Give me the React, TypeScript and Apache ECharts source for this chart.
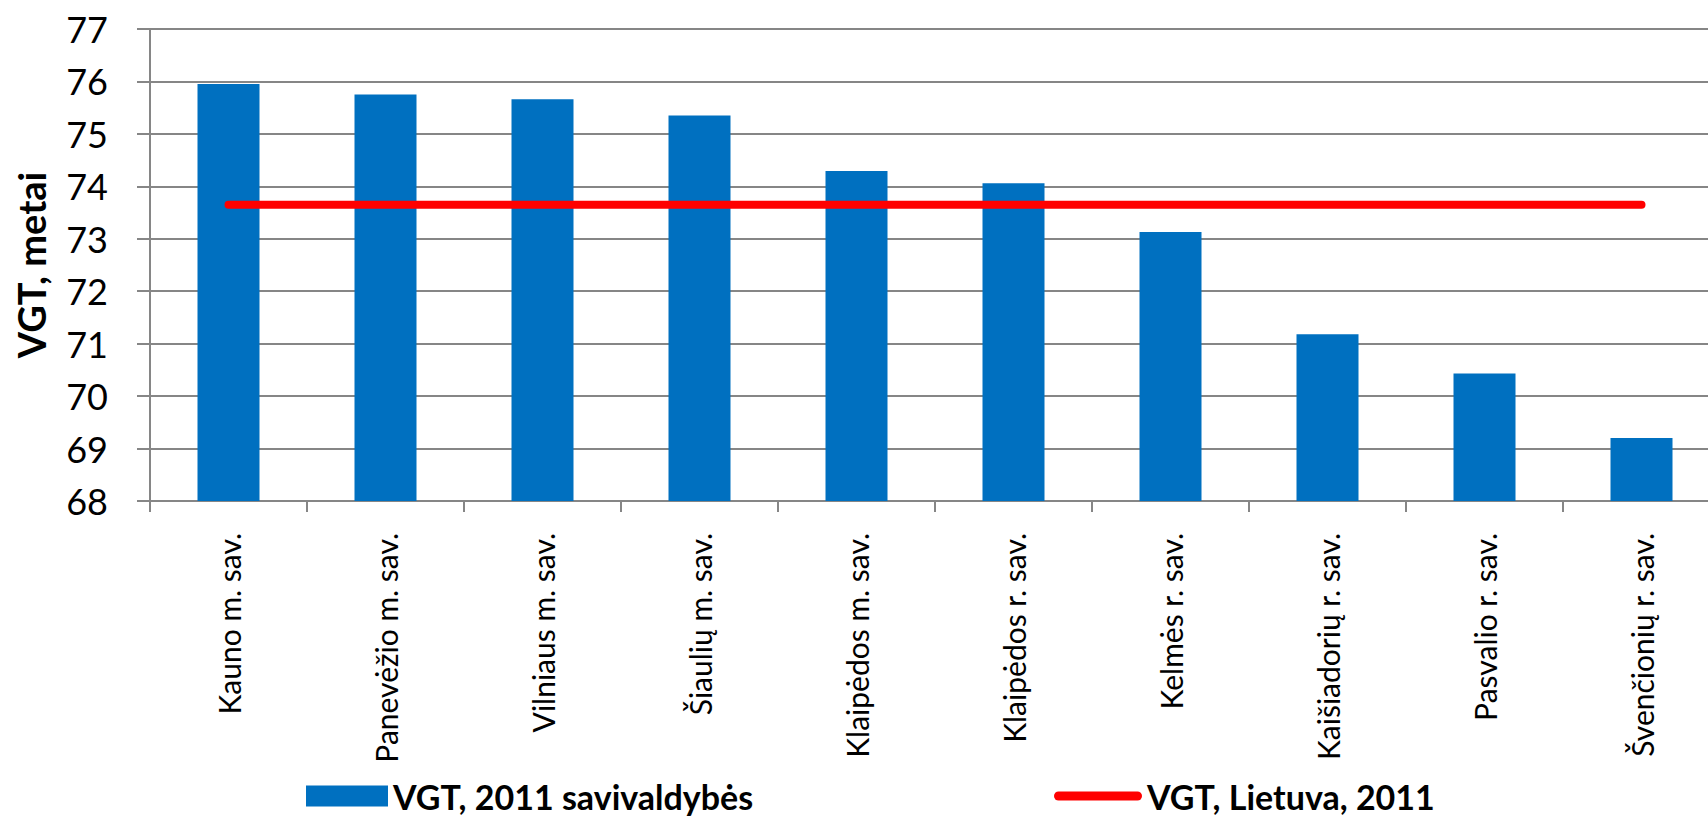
import React, { useEffect, useRef } from "react";
import * as echarts from "echarts";

const categories = [
  "Kauno m. sav.",
  "Panevėžio m. sav.",
  "Vilniaus m. sav.",
  "Šiaulių m. sav.",
  "Klaipėdos m. sav.",
  "Klaipėdos r. sav.",
  "Kelmės r. sav.",
  "Kaišiadorių r. sav.",
  "Pasvalio r. sav.",
  "Švenčionių r. sav.",
];

const municipalityValues = [75.95, 75.75, 75.66, 75.35, 74.29, 74.06, 73.13, 71.18, 70.43, 69.2];
const lithuaniaValues = [73.65, 73.65, 73.65, 73.65, 73.65, 73.65, 73.65, 73.65, 73.65, 73.65];

const seriesNames = ["VGT, 2011 savivaldybės", "VGT, Lietuva, 2011"];
const yAxisTitle = "VGT, metai";
const yMin = 68;
const yMax = 77;

const FONT = "Lato, sans-serif";
const GRID_COLOR = "#868686";

export default function App() {
  const ref = useRef<HTMLDivElement>(null);

  useEffect(() => {
    if (!ref.current) return;
    const chart = echarts.init(ref.current, undefined, { renderer: "svg" });
    chart.setOption({
      animation: false,
      backgroundColor: "#ffffff",
      textStyle: { fontFamily: FONT, color: "#000" },
      grid: { left: 150, top: 29, width: 1570, height: 472, containLabel: false },
      legend: [
        {
          left: 306,
          top: 779,
          padding: 0,
          selectedMode: false,
          itemWidth: 82,
          itemHeight: 21,
          data: [{ name: seriesNames[0], icon: "rect" }],
          textStyle: { fontFamily: FONT, fontSize: 34, fontWeight: "bold", color: "#000" },
        },
        {
          left: 1054,
          top: 779,
          padding: 0,
          selectedMode: false,
          itemWidth: 88,
          itemHeight: 9,
          data: [
            {
              name: seriesNames[1],
              icon: "path://M4.5,0H83.5A4.5,4.5,0,0,1,83.5,9H4.5A4.5,4.5,0,0,1,4.5,0Z",
            },
          ],
          itemStyle: { color: "#FF0000" },
          textStyle: { fontFamily: FONT, fontSize: 34, fontWeight: "bold", color: "#000" },
        },
      ],
      xAxis: {
        type: "category",
        data: categories,
        boundaryGap: true,
        axisLine: { show: true, lineStyle: { color: GRID_COLOR, width: 2 } },
        axisTick: { show: true, length: 11, lineStyle: { color: GRID_COLOR, width: 2 } },
        axisLabel: {
          rotate: 90,
          interval: 0,
          margin: 32,
          fontFamily: FONT,
          fontSize: 30,
          color: "#000",
        },
        splitLine: { show: false },
      },
      yAxis: {
        type: "value",
        min: yMin,
        max: yMax,
        interval: 1,
        name: yAxisTitle,
        nameLocation: "middle",
        nameGap: 100,
        nameRotate: 90,
        nameTextStyle: { fontFamily: FONT, fontSize: 38, fontWeight: "bold", color: "#000" },
        axisLine: { show: true, lineStyle: { color: GRID_COLOR, width: 2 } },
        axisTick: { show: true, length: 13, lineStyle: { color: GRID_COLOR, width: 2 } },
        axisLabel: { margin: 42, fontFamily: FONT, fontSize: 36, color: "#000" },
        splitLine: { show: true, lineStyle: { color: GRID_COLOR, width: 2 } },
      },
      series: [
        {
          name: seriesNames[0],
          type: "bar",
          data: municipalityValues,
          barWidth: 62,
          itemStyle: { color: "#0070C0" },
          z: 2,
        },
        {
          name: seriesNames[1],
          type: "line",
          data: lithuaniaValues,
          symbol: "none",
          lineStyle: { color: "#FF0000", width: 8, cap: "round" },
          itemStyle: { color: "#FF0000" },
          z: 3,
        },
      ],
    });
    return () => chart.dispose();
  }, []);

  return (
    <div
      style={{
        position: "fixed",
        left: 0,
        top: 0,
        width: 1708,
        height: 817,
        overflow: "hidden",
        background: "#fff",
      }}
    >
      <div ref={ref} style={{ width: 1730, height: 817 }} />
    </div>
  );
}
